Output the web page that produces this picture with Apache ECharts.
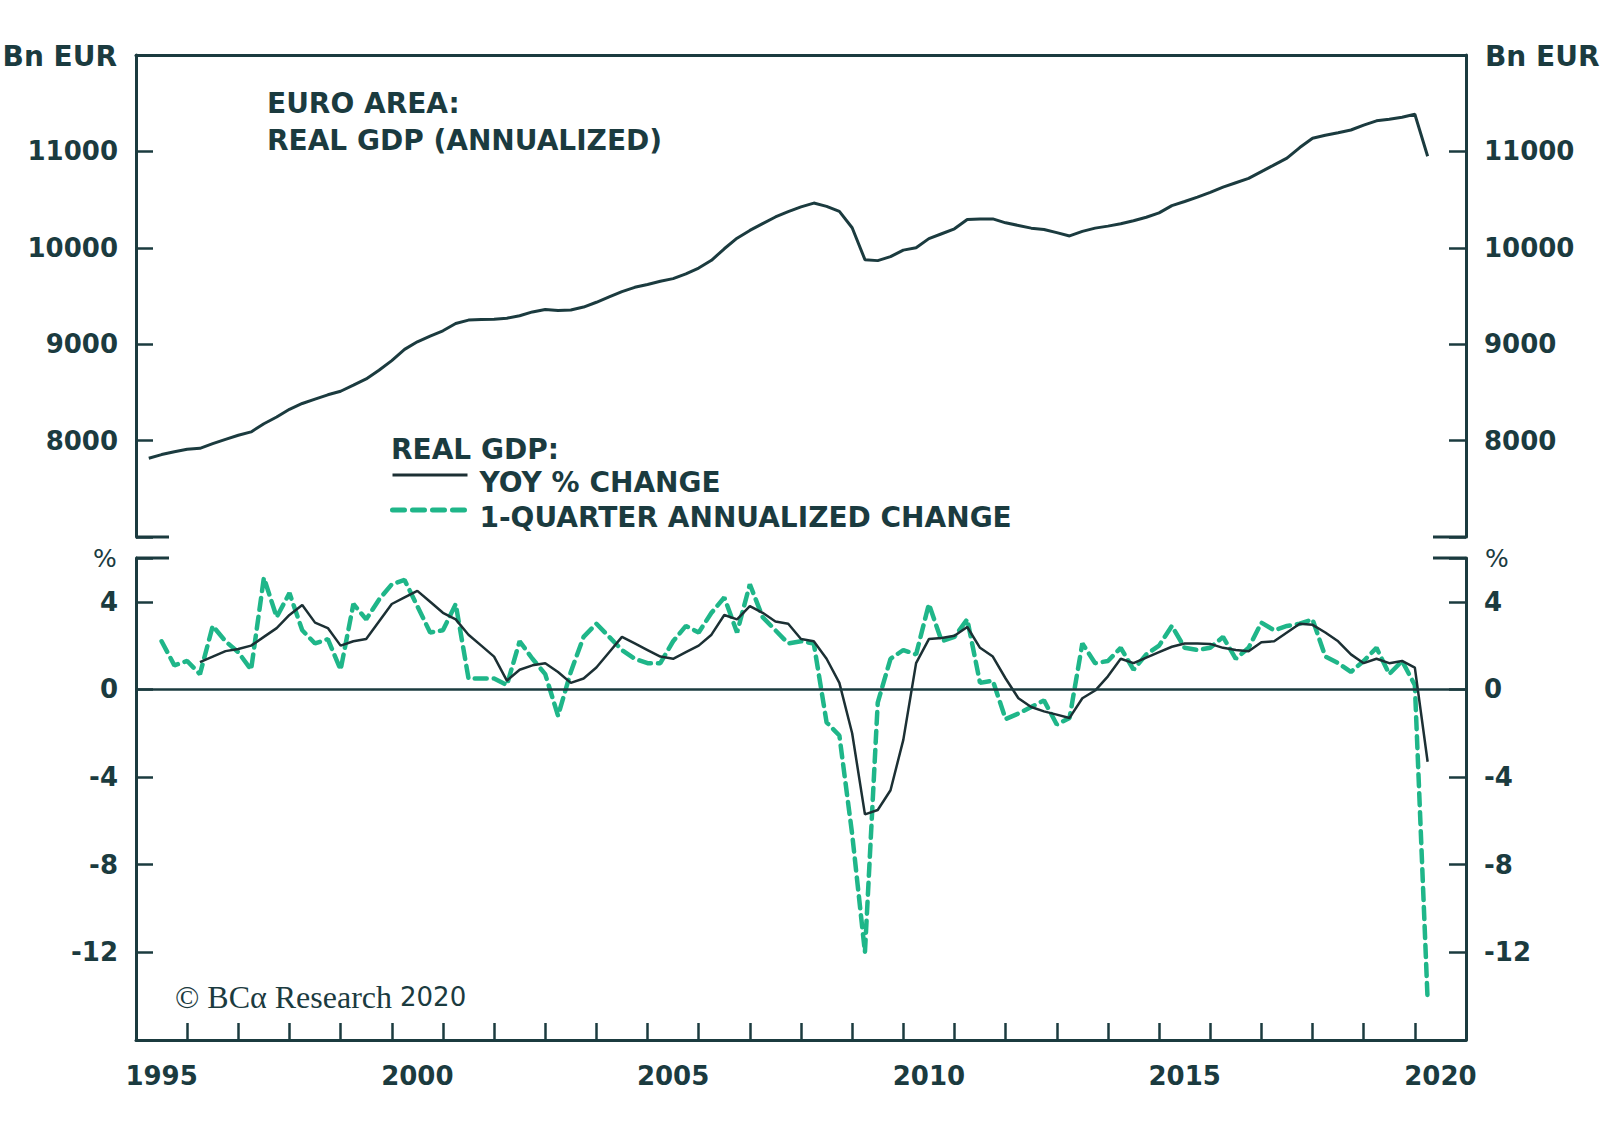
<!DOCTYPE html>
<html><head><meta charset="utf-8">
<script src="https://cdn.jsdelivr.net/npm/echarts@6/dist/echarts.min.js"></script>
<style>html,body{margin:0;padding:0;background:#fff}#c{width:1600px;height:1146px}</style>
</head><body><div id="c"></div>
<script>
const quarters = [
'1995Q1','1995Q2','1995Q3','1995Q4','1996Q1','1996Q2','1996Q3','1996Q4',
'1997Q1','1997Q2','1997Q3','1997Q4','1998Q1','1998Q2','1998Q3','1998Q4',
'1999Q1','1999Q2','1999Q3','1999Q4','2000Q1','2000Q2','2000Q3','2000Q4',
'2001Q1','2001Q2','2001Q3','2001Q4','2002Q1','2002Q2','2002Q3','2002Q4',
'2003Q1','2003Q2','2003Q3','2003Q4','2004Q1','2004Q2','2004Q3','2004Q4',
'2005Q1','2005Q2','2005Q3','2005Q4','2006Q1','2006Q2','2006Q3','2006Q4',
'2007Q1','2007Q2','2007Q3','2007Q4','2008Q1','2008Q2','2008Q3','2008Q4',
'2009Q1','2009Q2','2009Q3','2009Q4','2010Q1','2010Q2','2010Q3','2010Q4',
'2011Q1','2011Q2','2011Q3','2011Q4','2012Q1','2012Q2','2012Q3','2012Q4',
'2013Q1','2013Q2','2013Q3','2013Q4','2014Q1','2014Q2','2014Q3','2014Q4',
'2015Q1','2015Q2','2015Q3','2015Q4','2016Q1','2016Q2','2016Q3','2016Q4',
'2017Q1','2017Q2','2017Q3','2017Q4','2018Q1','2018Q2','2018Q3','2018Q4',
'2019Q1','2019Q2','2019Q3','2019Q4','2020Q1'];

const gdpLevel = [
7817,7855,7884,7910, 7920,7968,8013,8055, 8090,8175,8245,8325, 8385,8430,8475,8512,
8575,8640,8730,8830, 8946,9025,9084,9139, 9215,9250,9255,9260, 9270,9295,9335,9360,
9350,9355,9385,9435, 9490,9545,9590,9620, 9653,9680,9730,9790, 9870,9990,10100,10180,
10250,10320,10375,10425, 10464,10430,10378,10208, 9877,9867,9908,9976, 10000,10095,10146,10197,
10293,10300,10300,10259, 10232,10204,10190,10157, 10123,10170,10204,10225, 10249,10280,10317,10362,
10437,10480,10525,10575, 10630,10675,10720,10790, 10860,10930,11040,11136, 11167,11194,11222,11273,
11317,11334,11355,11385, 10950];

const yoyChange = [
null,null,null,null, 1.25,1.5,1.75,1.85, 2.0,2.4,2.8,3.4, 3.85,3.05,2.8,2.0,
2.2,2.3,3.1,3.9, 4.2,4.5,4.0,3.5, 3.2,2.5,2.0,1.5, 0.4,0.9,1.1,1.2,
0.8,0.3,0.5,1.0, 1.7,2.4,2.1,1.8, 1.5,1.4,1.7,2.0, 2.5,3.4,3.2,3.8,
3.5,3.1,3.0,2.3, 2.2,1.4,0.3,-2.0, -5.7,-5.5,-4.6,-2.3, 1.2,2.3,2.35,2.45,
2.85,1.9,1.5,0.5, -0.4,-0.8,-1.0,-1.15, -1.3,-0.4,-0.05,0.6, 1.4,1.2,1.45,1.7,
1.95,2.1,2.1,2.08, 1.9,1.8,1.74,2.15, 2.2,2.6,3.0,2.95, 2.6,2.2,1.6,1.2,
1.4,1.2,1.3,1.0, -3.3];

const qoqAnnualized = [
null,2.2,1.1,1.3, 0.7,2.9,2.2,1.7, 0.9,5.1,3.3,4.4, 2.7,2.1,2.3,0.9,
3.9,3.2,4.1,4.8, 5.0,3.8,2.6,2.7, 3.9,0.5,0.5,0.5, 0.2,2.2,1.4,0.7,
-1.2,0.8,2.4,3.0, 2.4,1.8,1.4,1.2, 1.2,2.2,2.9,2.6, 3.5,4.2,2.6,4.8,
3.3,2.7,2.1,2.2, 2.1,-1.5,-2.1,-6.6, -12.0,-0.6,1.4,1.8, 1.6,3.9,2.2,2.4,
3.2,0.3,0.4,-1.35, -1.1,-0.8,-0.5,-1.6, -1.3,2.1,1.2,1.3, 1.9,0.9,1.6,2.0,
2.9,1.9,1.8,1.9, 2.4,1.4,1.9,3.05, 2.7,2.9,3.0,3.2, 1.5,1.2,0.8,1.3,
1.9,0.7,1.3,0.2, -14.2];

const yearLabels = [1995, 2000, 2005, 2010, 2015, 2020];
const levelTicks = [8000, 9000, 10000, 11000];
const pctTicks = [4, 0, -4, -8, -12];

const DARK = '#1b3b3f';
const LINE_DARK = '#1c3034';
const GREEN = '#1fb689';
const FONT = 'DejaVu Sans';

// layout (pixels)
const L = 136, R = 1466, T1 = 55, B1 = 537, T2 = 558, B2 = 1040;

function qx(label) { return +label.slice(0, 4) + (+label.slice(5)) / 4; }
function pairs(vals) { return quarters.map((q, i) => [qx(q), vals[i]]).filter(p => p[1] !== null); }

const chart = echarts.init(document.getElementById('c'), null, { renderer: 'svg' });

const axisLineStyle = { color: DARK, width: 3 };
const tickStyle = { color: DARK, width: 2.5 };
const labelStyle = { color: DARK, fontFamily: FONT, fontWeight: 'bold', fontSize: 26 };

function yAxisLevel(pos) {
  return {
    type: 'value', gridIndex: 0, position: pos, min: 7000, max: 12000, interval: 1000,
    axisLine: { show: true, lineStyle: axisLineStyle },
    axisTick: { show: true, inside: true, length: 17, lineStyle: tickStyle },
    splitLine: { show: false },
    axisLabel: Object.assign({ margin: 18, formatter: v => levelTicks.includes(v) ? String(v) : '' }, labelStyle)
  };
}
function yAxisPct(pos) {
  return {
    type: 'value', gridIndex: 1, position: pos, min: -16, max: 6, interval: 4,
    axisLine: { show: true, lineStyle: axisLineStyle },
    axisTick: { show: true, inside: true, length: 17, lineStyle: tickStyle },
    splitLine: { show: false },
    axisLabel: Object.assign({ margin: 18, formatter: v => pctTicks.includes(v) ? String(v) : '' }, labelStyle)
  };
}

function bracket(x1, x2, y) {
  return { type: 'line', silent: true, shape: { x1: x1, y1: y, x2: x2, y2: y }, style: { stroke: DARK, lineWidth: 3 } };
}
function txt(text, x, y, align, font) {
  return { type: 'text', silent: true, style: { text: text, x: x, y: y, align: align, verticalAlign: 'middle', font: font, fill: DARK } };
}

const option = {
  animation: false,
  backgroundColor: '#ffffff',
  grid: [
    { left: L, right: 1600 - R, top: T1, height: B1 - T1, outerBoundsMode: 'none' },
    { left: L, right: 1600 - R, top: T2, height: B2 - T2, outerBoundsMode: 'none' }
  ],
  xAxis: [
    { type: 'value', gridIndex: 0, min: 1995, max: 2021, position: 'top',
      axisLine: { show: true, lineStyle: axisLineStyle }, axisTick: { show: false },
      axisLabel: { show: false }, splitLine: { show: false } },
    { type: 'value', gridIndex: 1, min: 1995, max: 2021, interval: 1, position: 'bottom',
      axisLine: { show: true, onZero: false, lineStyle: axisLineStyle },
      axisTick: { show: true, inside: true, length: 17, lineStyle: tickStyle },
      axisLabel: { show: false }, splitLine: { show: false } },
    { type: 'value', gridIndex: 1, min: 1995, max: 2021, interval: 0.5, position: 'bottom',
      axisLine: { show: false, onZero: false }, axisTick: { show: false }, splitLine: { show: false },
      axisLabel: Object.assign({ margin: 23, formatter: v => {
        const y = Math.floor(v + 1e-9);
        return (Math.abs(v - y - 0.5) < 1e-6 && yearLabels.includes(y)) ? String(y) : '';
      } }, labelStyle) }
  ],
  yAxis: [ yAxisLevel('left'), yAxisLevel('right'), yAxisPct('left'), yAxisPct('right') ],
  legend: {
    orient: 'vertical', left: 390, top: 454, padding: 0, itemWidth: 75, itemHeight: 22, itemGap: -7,
    itemStyle: { opacity: 0 },
    data: [
      { name: 'YOY % CHANGE', lineStyle: { color: LINE_DARK, width: 3 } },
      { name: '1-QUARTER ANNUALIZED CHANGE', lineStyle: { color: GREEN, width: 5, type: [12, 8] } }
    ],
    formatter: name => '{t|' + name + '}',
    textStyle: { color: DARK, fontFamily: FONT, fontWeight: 'bold', fontSize: 28, lineHeight: 22, padding: [0, 0, 0, 7],
      rich: { t: { color: DARK, fontFamily: FONT, fontWeight: 'bold', fontSize: 28, lineHeight: 22, padding: [14, 0, 0, 0] } } },
    selectedMode: false
  },
  series: [
    { name: 'REAL GDP', type: 'line', xAxisIndex: 0, yAxisIndex: 0, data: pairs(gdpLevel),
      symbol: 'none', showSymbol: false, lineStyle: { color: DARK, width: 3 }, silent: true },
    { name: 'YOY % CHANGE', type: 'line', xAxisIndex: 1, yAxisIndex: 2, data: pairs(yoyChange),
      symbol: 'none', showSymbol: false, itemStyle: { color: LINE_DARK }, lineStyle: { color: LINE_DARK, width: 2.5 }, silent: true, z: 3,
      markLine: { silent: true, symbol: 'none', label: { show: false },
        lineStyle: { color: DARK, width: 2.5, type: 'solid' }, data: [{ yAxis: 0 }] } },
    { name: '1-QUARTER ANNUALIZED CHANGE', type: 'line', xAxisIndex: 1, yAxisIndex: 2, data: pairs(qoqAnnualized),
      symbol: 'none', showSymbol: false, itemStyle: { color: GREEN },
      lineStyle: { color: GREEN, width: 4.5, type: [12, 7], cap: 'round' }, silent: true, z: 2 }
  ],
  graphic: [
    bracket(L, L + 33, B1), bracket(R - 33, R, B1),
    bracket(L, L + 33, T2), bracket(R - 33, R, T2),
    txt('Bn EUR', 117, 56, 'right', 'bold 28px "DejaVu Sans"'),
    txt('Bn EUR', 1485, 56, 'left', 'bold 28px "DejaVu Sans"'),
    txt('%', 105, 558, 'center', '25px "DejaVu Sans"'),
    txt('%', 1497, 558, 'center', '25px "DejaVu Sans"'),
    { type: 'text', silent: true, style: { text: 'EURO AREA:\nREAL GDP (ANNUALIZED)', x: 267, y: 85, align: 'left', verticalAlign: 'top',
      font: 'bold 28px "DejaVu Sans"', lineHeight: 37, fill: DARK } },
    txt('REAL GDP:', 391, 449, 'left', 'bold 28px "DejaVu Sans"'),
    { type: 'text', silent: true, style: { x: 175, y: 997, verticalAlign: 'middle', align: 'left',
      text: '{a|© BCα Research }{b|2020}',
      rich: { a: { fontFamily: 'Liberation Serif', fontSize: 32, fill: DARK, color: DARK },
              b: { fontFamily: FONT, fontSize: 26, fill: DARK, color: DARK } } } }
  ]
};
chart.setOption(option);
</script></body></html>
